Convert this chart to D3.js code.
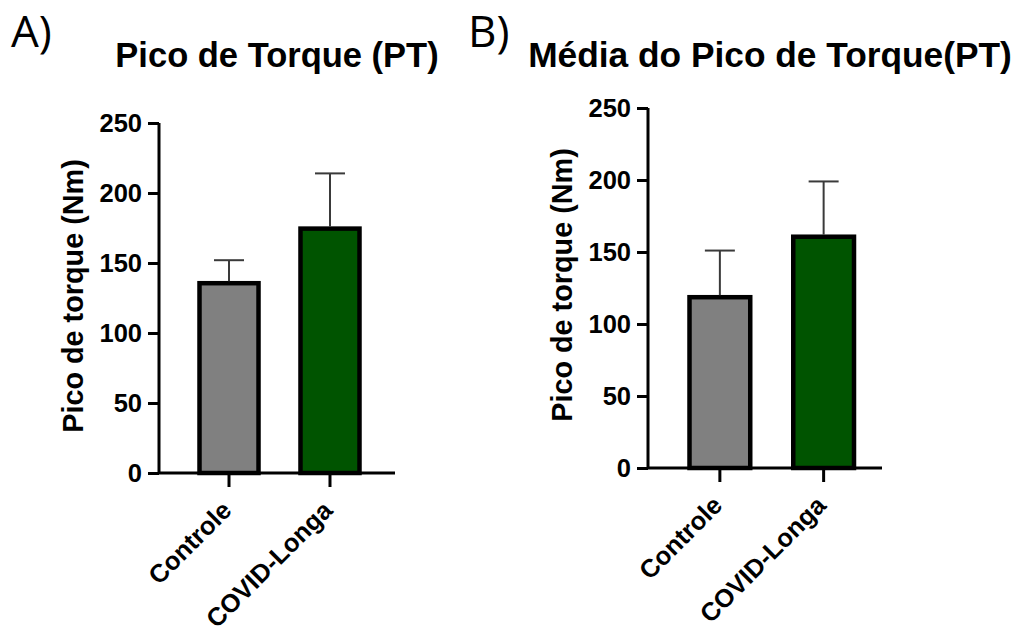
<!DOCTYPE html>
<html><head><meta charset="utf-8">
<script src="https://cdn.jsdelivr.net/npm/d3@7/dist/d3.min.js"></script>
<style>body{margin:0;background:#fff}svg{display:block}</style>
</head><body>
<svg id="c" width="1015" height="633"></svg>
<script>
const categories = ["Controle", "COVID-Longa"];
const meansA = [137, 176];
const errA = [152, 214];
const meansB = [120, 162];
const errB = [151, 199];
const yTicks = [0, 50, 100, 150, 200, 250];
const barColors = ["#808080", "#005400"];
const titles = ["Pico de Torque (PT)", "Média do Pico de Torque(PT)"];
const panelLabels = ["A)", "B)"];
const yLabel = "Pico de torque (Nm)";

const svg = d3.select("#c");
const FONT = "'Liberation Sans', Arial, sans-serif";

const panels = [
  {means: meansA, errs: errA, axX: 159, axEnd: 395, y0: 473, yTop: 123, band: [197.5, 361.5], title: titles[0], titleX: 277, titleY: 67, titleSize: 34.5, lab: panelLabels[0], labX: 11, labY: 47, yLabX: 83, yLabY: 296},
  {means: meansB, errs: errB, axX: 648, axEnd: 882, y0: 468, yTop: 108, band: [687.5, 856], title: titles[1], titleX: 770, titleY: 67, titleSize: 35.3, lab: panelLabels[1], labX: 468, labY: 47, yLabX: 572, yLabY: 285}
];

panels.forEach(p => {
  const g = svg.append("g");
  const y = d3.scaleLinear().domain([0, 250]).range([p.y0, p.yTop]);
  const x = d3.scaleBand().domain(categories).range(p.band).paddingInner(0.376).paddingOuter(0);

  // bars
  g.selectAll("rect.bar").data(categories).join("rect")
    .attr("class", "bar")
    .attr("x", d => x(d) + 2)
    .attr("width", x.bandwidth() - 4)
    .attr("y", (d, i) => y(p.means[i]) + 2)
    .attr("height", (d, i) => y(0) - y(p.means[i]) - 2)
    .attr("fill", (d, i) => barColors[i])
    .attr("stroke", "#000").attr("stroke-width", 4.5);

  // error bars
  const eb = g.selectAll("g.eb").data(categories).join("g").attr("class", "eb");
  eb.append("line")
    .attr("x1", d => x(d) + x.bandwidth() / 2).attr("x2", d => x(d) + x.bandwidth() / 2)
    .attr("y1", (d, i) => y(p.means[i])).attr("y2", (d, i) => y(p.errs[i]))
    .attr("stroke", "#3a3a3a").attr("stroke-width", 2);
  eb.append("line")
    .attr("x1", d => x(d) + x.bandwidth() / 2 - 15).attr("x2", d => x(d) + x.bandwidth() / 2 + 15)
    .attr("y1", (d, i) => y(p.errs[i])).attr("y2", (d, i) => y(p.errs[i]))
    .attr("stroke", "#3a3a3a").attr("stroke-width", 2);

  // y axis
  const ya = g.append("g").attr("transform", `translate(${p.axX},0)`)
    .call(d3.axisLeft(y).tickValues(yTicks).tickSize(11).tickPadding(6).tickSizeOuter(0));
  ya.select(".domain").attr("stroke", "#000").attr("stroke-width", 3).attr("d", `M0,${p.y0}V${p.yTop}`);
  ya.selectAll(".tick line").attr("stroke", "#000").attr("stroke-width", 3);
  ya.selectAll(".tick text").attr("font-family", FONT).attr("font-weight", "bold").attr("font-size", 25.5).attr("fill", "#000");

  // x axis
  const xa = g.append("g").attr("transform", `translate(0,${p.y0})`)
    .call(d3.axisBottom(x).tickSize(14).tickSizeOuter(0).tickPadding(0));
  xa.select(".domain").attr("stroke", "#000").attr("stroke-width", 3).attr("d", `M${p.axX},0H${p.axEnd}`);
  xa.selectAll(".tick line").attr("stroke", "#000").attr("stroke-width", 3);
  xa.selectAll(".tick text")
    .attr("font-family", FONT).attr("font-weight", "bold").attr("font-size", 25.5).attr("fill", "#000")
    .attr("text-anchor", "end").attr("dy", 0).attr("y", 0)
    .attr("transform", "translate(4,39) rotate(-45)");

  // y label
  g.append("text").attr("transform", `translate(${p.yLabX},${p.yLabY}) rotate(-90)`)
    .attr("text-anchor", "middle").attr("font-family", FONT).attr("font-weight", "bold").attr("font-size", 28.8)
    .text(yLabel);

  // title
  g.append("text").attr("x", p.titleX).attr("y", p.titleY).attr("text-anchor", "middle")
    .attr("font-family", FONT).attr("font-weight", "bold").attr("font-size", p.titleSize).text(p.title);

  // panel label
  g.append("text").attr("x", p.labX).attr("y", p.labY)
    .attr("font-family", "'Open Sans', sans-serif").attr("font-size", 44).text(p.lab);
});
</script>
</body></html>
